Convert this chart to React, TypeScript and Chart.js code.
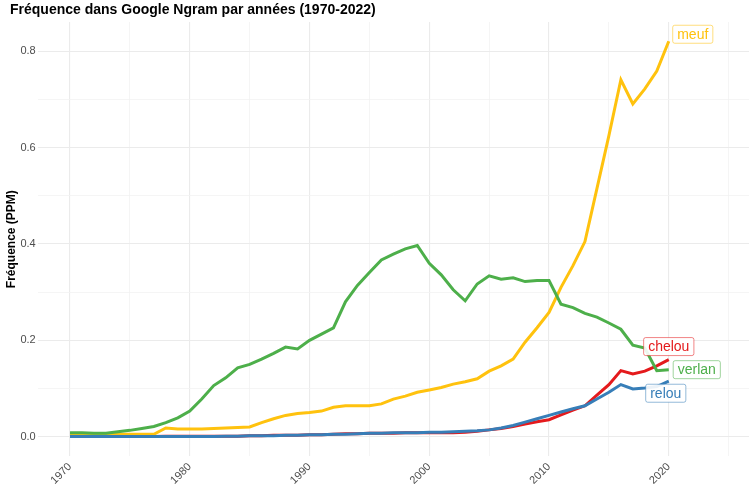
import { useEffect, useRef } from "react";
import { Chart, registerables } from "chart.js";

Chart.register(...registerables);

const years = Array.from({ length: 51 }, (_, i) => 1970 + i);

const meuf = [
  0.005, 0.005, 0.005, 0.005, 0.005, 0.005, 0.005, 0.005, 0.018, 0.016,
  0.016, 0.016, 0.017, 0.018, 0.019, 0.02, 0.029, 0.037, 0.044, 0.048,
  0.05, 0.053, 0.061, 0.064, 0.064, 0.064, 0.068, 0.078, 0.084, 0.092,
  0.097, 0.102, 0.109, 0.114, 0.12, 0.136, 0.147, 0.161, 0.196, 0.226,
  0.258, 0.31, 0.355, 0.405, 0.515, 0.625, 0.741, 0.691, 0.722, 0.759,
  0.821,
];
const verlan = [
  0.008, 0.008, 0.007, 0.007, 0.01, 0.013, 0.017, 0.021, 0.029, 0.039,
  0.053, 0.078, 0.106, 0.122, 0.143, 0.15, 0.161, 0.173, 0.186, 0.182,
  0.2, 0.213, 0.226, 0.28, 0.314, 0.341, 0.367, 0.379, 0.39, 0.397,
  0.36, 0.336, 0.305, 0.282, 0.317, 0.334, 0.327, 0.33, 0.322, 0.324,
  0.324, 0.275, 0.268, 0.256, 0.248, 0.236, 0.223, 0.19, 0.184, 0.137,
  0.139,
];
const chelou = [
  0.0, 0.0, 0.0, 0.0, 0.0, 0.0, 0.0, 0.0, 0.001, 0.001,
  0.001, 0.001, 0.001, 0.001, 0.001, 0.002, 0.002, 0.003, 0.003, 0.003,
  0.004, 0.004, 0.005, 0.006, 0.006, 0.007, 0.007, 0.007, 0.008, 0.008,
  0.008, 0.008, 0.008, 0.009, 0.011, 0.014, 0.017, 0.021, 0.026, 0.031,
  0.035, 0.045, 0.055, 0.064, 0.086, 0.108, 0.137, 0.13, 0.136, 0.147,
  0.16,
];
const relou = [
  0.0, 0.0, 0.0, 0.0, 0.0, 0.0, 0.0, 0.0, 0.0, 0.0,
  0.0, 0.0, 0.0, 0.001, 0.001, 0.002, 0.002, 0.002, 0.003, 0.003,
  0.004, 0.004, 0.005, 0.005, 0.006, 0.007, 0.007, 0.008, 0.008, 0.008,
  0.009, 0.009, 0.01, 0.011, 0.012, 0.014, 0.018, 0.023, 0.03, 0.037,
  0.044, 0.051, 0.058, 0.064, 0.078, 0.092, 0.108, 0.099, 0.101, 0.104,
  0.115,
];

// drawn in this order, first one on top (ggplot draws verlan last)
const series = [
  { name: "verlan", values: verlan, color: "#4DAF4A", dx: 28, dy: 0 },
  { name: "relou", values: relou, color: "#377EB8", dx: -3, dy: 12 },
  { name: "meuf", values: meuf, color: "#FFC20E", dx: 24, dy: -7 },
  { name: "chelou", values: chelou, color: "#E41A1C", dx: 0, dy: -13 },
];

const TITLE = "Fréquence dans Google Ngram par années (1970-2022)";
const FONT = "'Liberation Sans', Arial, sans-serif";

const titleAndLabels = {
  id: "titleAndLabels",
  afterDraw(chart: Chart) {
    const ctx = chart.ctx;
    ctx.save();
    ctx.font = `bold 14px ${FONT}`;
    ctx.fillStyle = "#000";
    ctx.textAlign = "left";
    ctx.textBaseline = "middle";
    ctx.fillText(TITLE, 10, 10);

    ctx.font = `14px ${FONT}`;
    ctx.textAlign = "center";
    series.forEach((s, i) => {
      const pts = chart.getDatasetMeta(i).data;
      const p = pts[pts.length - 1];
      const cx = p.x + s.dx;
      const cy = p.y + s.dy;
      const w = ctx.measureText(s.name).width + 9;
      const h = 18;
      ctx.fillStyle = "rgba(255,255,255,0.9)";
      ctx.strokeStyle = s.color + "88";
      ctx.lineWidth = 1;
      ctx.beginPath();
      ctx.roundRect(cx - w / 2, cy - h / 2, w, h, 2);
      ctx.fill();
      ctx.stroke();
      ctx.fillStyle = s.color;
      ctx.fillText(s.name, cx, cy + 0.5);
    });
    ctx.restore();
  },
};

function NgramChart() {
  const ref = useRef<HTMLCanvasElement>(null);
  useEffect(() => {
    const chart = new Chart(ref.current!, {
      type: "line",
      data: {
        datasets: series.map((s) => ({
          label: s.name,
          data: years.map((y, i) => ({ x: y, y: s.values[i] })),
          borderColor: s.color,
          backgroundColor: s.color,
          borderWidth: 3,
          pointRadius: 0,
          tension: 0,
        })),
      },
      options: {
        animation: false,
        responsive: true,
        maintainAspectRatio: false,
        layout: { padding: { left: 2, right: 5, top: 22, bottom: 12 } },
        plugins: {
          legend: { display: false },
          tooltip: { enabled: false },
          title: { display: false },
        },
        scales: {
          x: {
            type: "linear",
            min: 1967.3,
            max: 2026.7,
            border: { display: false },
            grid: {
              drawTicks: false,
              color: (c: any) => (c.tick && c.tick.value % 10 === 0 ? "#EBEBEB" : "#F3F3F3"),
              lineWidth: (c: any) => (c.tick && c.tick.value % 10 === 0 ? 1.1 : 0.8),
            },
            ticks: {
              stepSize: 5,
              includeBounds: false,
              autoSkip: false,
              maxRotation: 45,
              minRotation: 45,
              padding: 4,
              color: "#4D4D4D",
              font: { family: FONT, size: 11 },
              callback: (v: any) => (v % 10 === 0 ? String(v) : ""),
            },
          },
          y: {
            min: -0.041,
            max: 0.861,
            border: { display: false },
            title: {
              display: true,
              text: "Fréquence (PPM)",
              color: "#000",
              font: { family: FONT, size: 12, weight: "bold" },
              padding: { top: 2, bottom: 0 },
            },
            grid: {
              drawTicks: false,
              color: (c: any) => (c.tick && Math.round(c.tick.value * 10) % 2 === 0 ? "#EBEBEB" : "#F3F3F3"),
              lineWidth: (c: any) => (c.tick && Math.round(c.tick.value * 10) % 2 === 0 ? 1.1 : 0.8),
            },
            ticks: {
              stepSize: 0.1,
              includeBounds: false,
              autoSkip: false,
              padding: 2,
              color: "#4D4D4D",
              font: { family: FONT, size: 11 },
              callback: (v: any) => {
                const n = Math.round(v * 10);
                return n % 2 === 0 ? (n / 10).toFixed(1) : "";
              },
            },
          },
        },
      },
      plugins: [titleAndLabels],
    });
    return () => chart.destroy();
  }, []);
  return <canvas ref={ref} />;
}

export default function App() {
  return (
    <div style={{ position: "fixed", left: 0, top: 0, width: 754, height: 503, background: "#fff" }}>
      <NgramChart />
    </div>
  );
}
